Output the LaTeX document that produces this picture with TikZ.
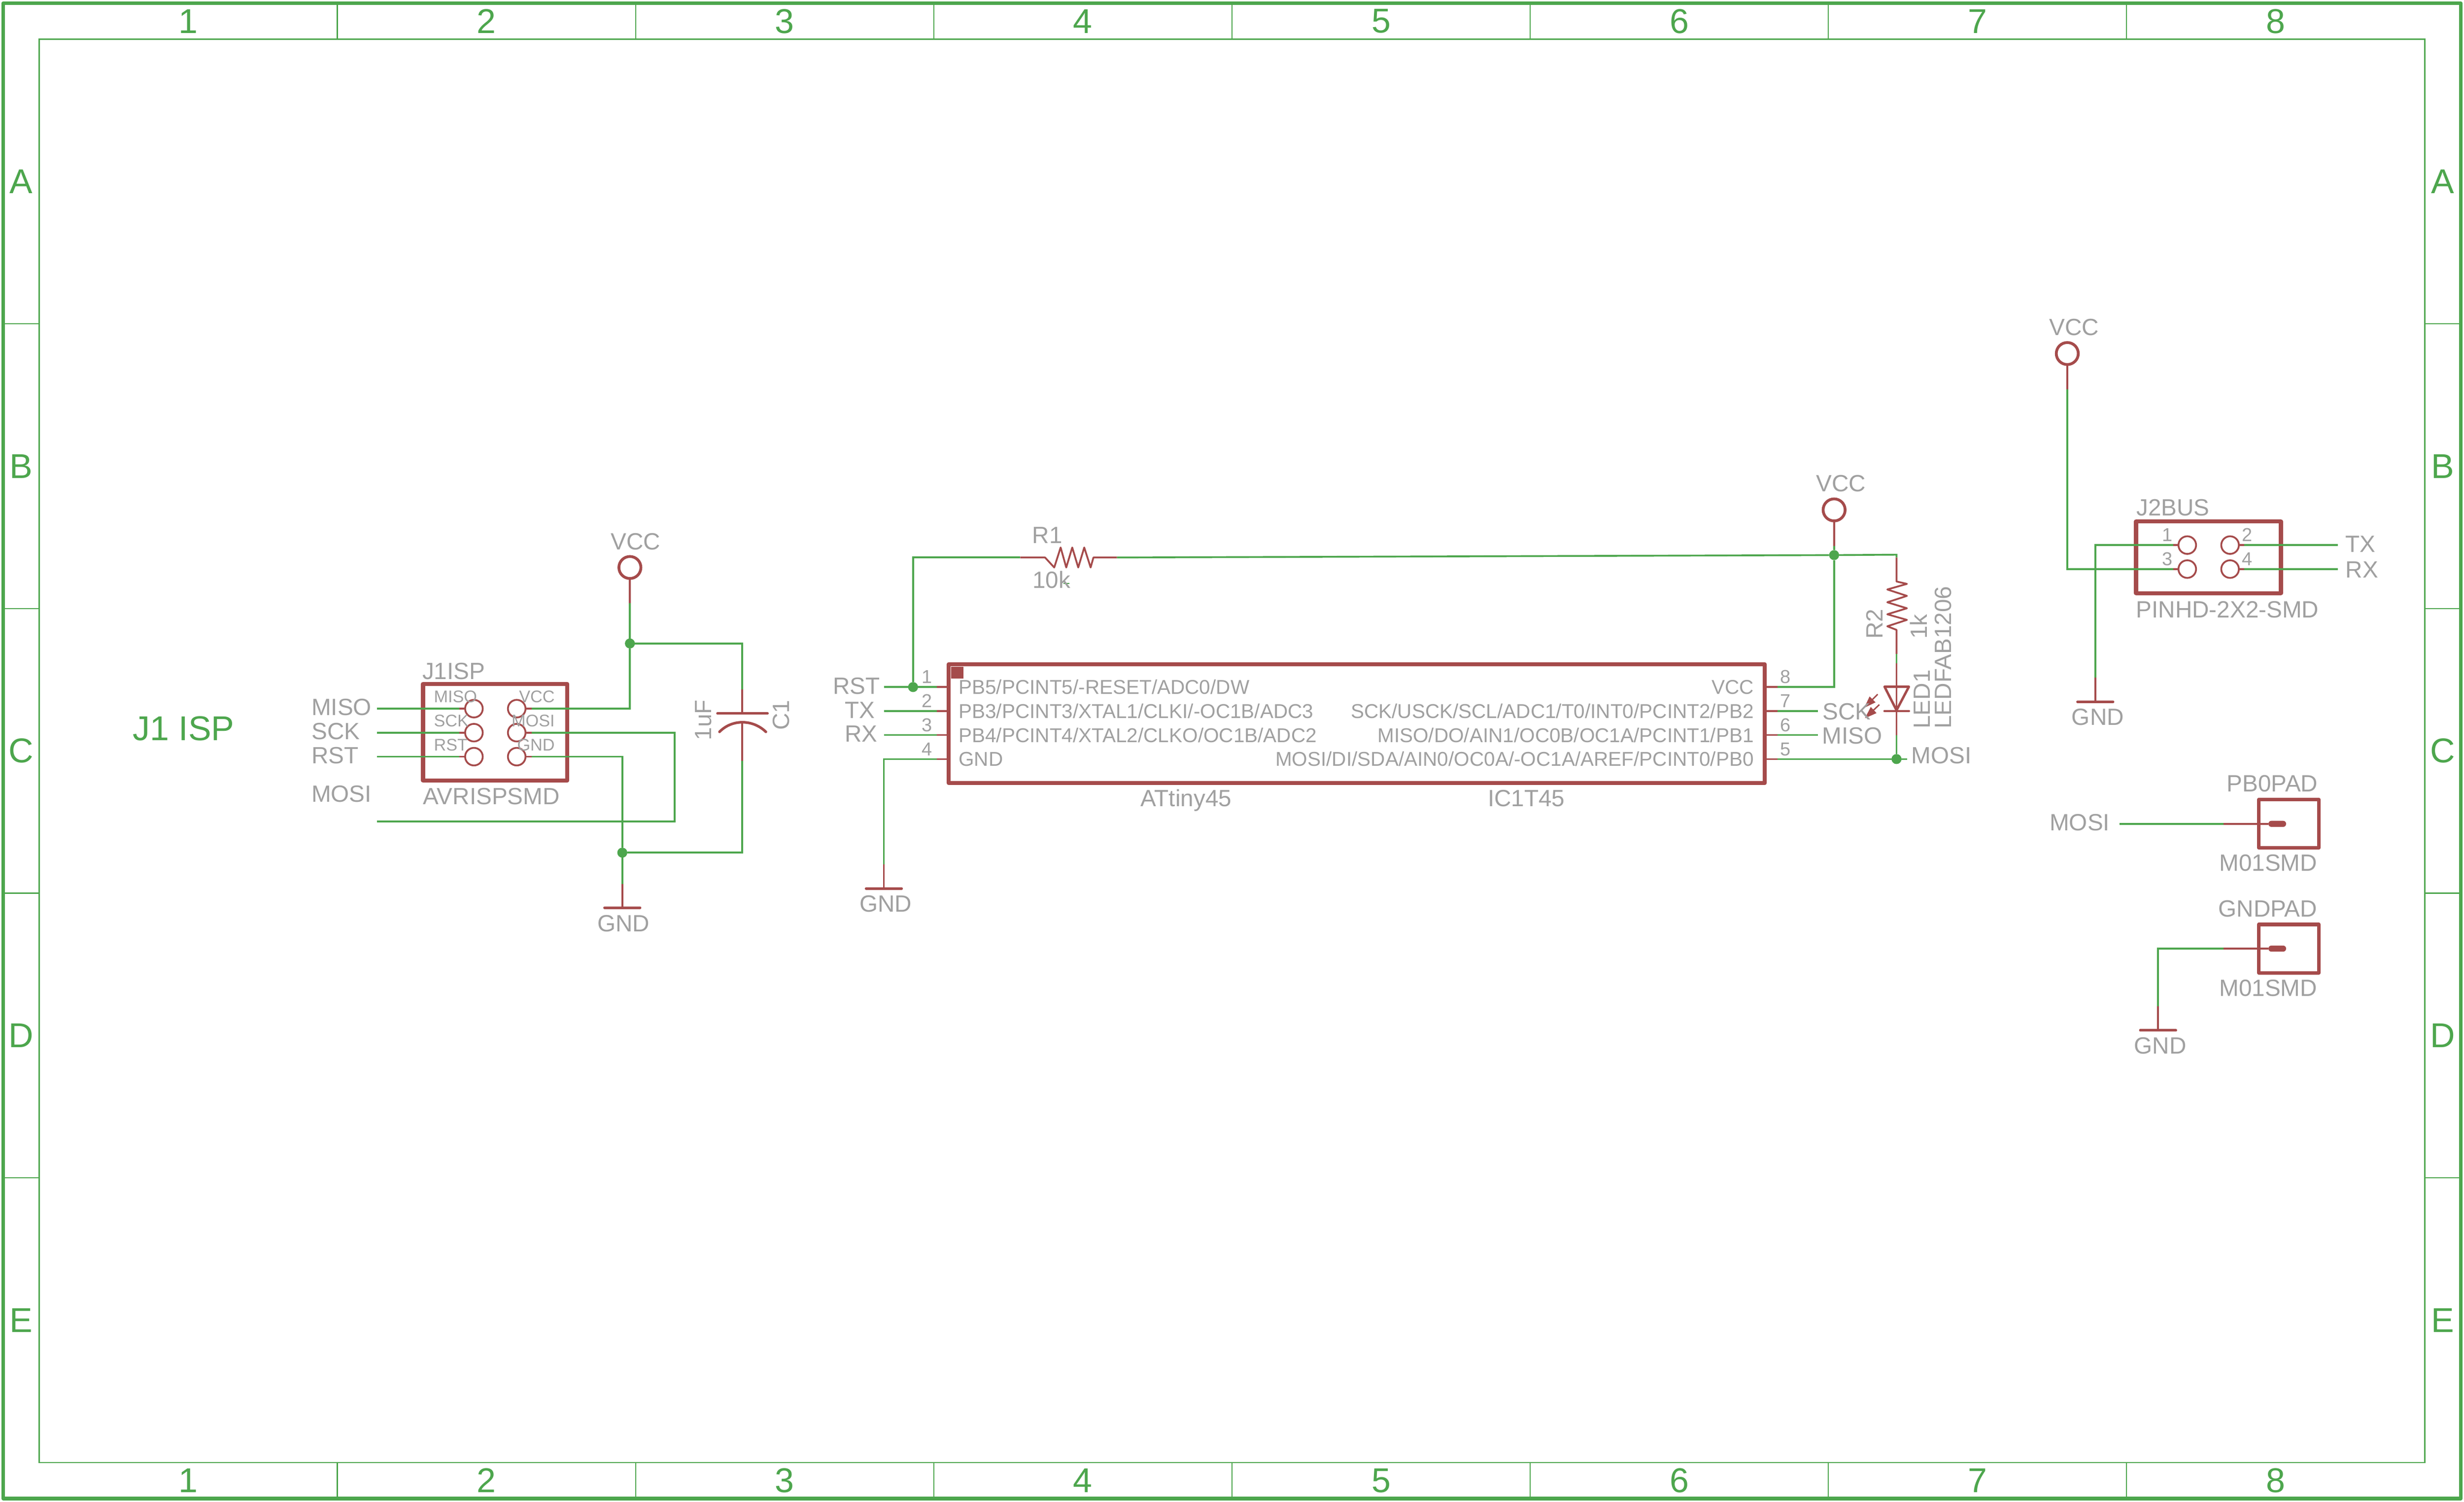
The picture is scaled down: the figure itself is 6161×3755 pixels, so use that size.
\documentclass[tikz,border=0pt]{standalone}
\usepackage{fontspec}
\setmainfont{Liberation Sans}
\usetikzlibrary{calc}
\usetikzlibrary{arrows.meta}

\definecolor{netgreen}{RGB}{77,166,77}
\definecolor{symred}{RGB}{165,75,75}
\definecolor{txtgray}{RGB}{160,160,160}

\tikzset{
  wire/.style={netgreen, line width=.045cm},
  sym/.style={symred, line width=.045cm},
  lbl/.style={txtgray, anchor=base west, inner sep=0, outer sep=0, font=\fontsize{16.7}{16.7}\selectfont},
  lblic/.style={lbl, font=\fontsize{14.2}{14.2}\selectfont},
  lblsm/.style={lbl, font=\fontsize{12}{12}\selectfont},
  lblnum/.style={lbl, font=\fontsize{13.3}{13.3}\selectfont},
  sheet/.style={netgreen, inner sep=0, outer sep=0, font=\fontsize{24.5}{24.5}\selectfont},
  hole/.style={circle, draw=symred, line width=.045cm, minimum size=.44cm, inner sep=0, outer sep=0},
  supply/.style={circle, draw=symred, line width=.07cm, minimum size=.55cm, inner sep=0, outer sep=0},
  junc/.style={circle, fill=netgreen, minimum size=.25cm, inner sep=0, outer sep=0},
  gndbar/.style={rectangle, fill=symred, rounded corners=.03cm, minimum width=.95cm, minimum height=.065cm, inner sep=0, outer sep=0},
  chip/.style={rectangle, draw=symred, line width=.1cm, line join=round, inner sep=0, outer sep=0},
  padbar/.style={rectangle, fill=symred, rounded corners=.07cm, minimum width=.44cm, minimum height=.15cm, inner sep=0, outer sep=0}
}

\begin{document}
\begin{tikzpicture} [x=.01cm, y=-.01cm]
\useasboundingbox (0,0) rectangle (6161,3755);

% sheet frame
\draw[netgreen, line width=.09cm, line join=round] (8,8) rectangle (6153,3747);
\draw[netgreen, line width=.03cm] (98,98) rectangle (6063,3657);
\foreach \c in {1,...,7} {
  \draw[netgreen, line width=.03cm] ({98+745.6*\c},8) -- ++(0,90);
  \draw[netgreen, line width=.03cm] ({98+745.6*\c},3657) -- ++(0,90);
}
\foreach \r in {1,...,4} {
  \draw[netgreen, line width=.03cm] (8,{98+711.8*\r}) -- ++(90,0);
  \draw[netgreen, line width=.03cm] (6063,{98+711.8*\r}) -- ++(90,0);
}
\foreach \c in {1,...,8} {
  \node[sheet] (top\c) at ({98+745.6*(\c-.5)},53) {\c};
  \node[sheet] (bot\c) at ({98+745.6*(\c-.5)},3702) {\c};
}
\foreach \r [count=\i] in {A,B,C,D,E} {
  \node[sheet] (lef\r) at (53,{98+711.8*(\i-.5)}) {\r};
  \node[sheet] (rig\r) at (6108,{98+711.8*(\i-.5)}) {\r};
}
\node[sheet, anchor=base west] (title) at (332,1851) {J1 ISP};

% J1 ISP header
\node[chip, minimum width=3.6cm, minimum height=2.42cm] (j1) at (1238,1831) {};
\node[lbl] (j1name) at (1056,1698) {J1ISP};
\node[lbl] (j1val) at (1058,2012) {AVRISPSMD};
\foreach \nm/\yy in {miso/1772, sck/1832, rst/1892} {
  \node[hole] (h\nm) at (1185,\yy) {};
  \draw[sym] (h\nm.west) -- ++(-15,0) coordinate (s\nm);
  \draw[wire] (s\nm) -- ++(-205,0) coordinate (e\nm);
}
\foreach \nm/\yy in {vcc/1772, mosi/1832, gnd/1892} {
  \node[hole] (h\nm) at (1292,\yy) {};
  \draw[sym] (h\nm.east) -- ++(15,0) coordinate (s\nm);
}
\node[lblsm] (tmiso) at (1085,1757) {MISO};
\node[lblsm] (tsck) at (1085,1817) {SCK};
\node[lblsm] (trst) at (1085,1877) {RST};
\node[lblsm, anchor=base east] (tvcc) at (1387,1757) {VCC};
\node[lblsm, anchor=base east] (tmosi) at (1387,1817) {MOSI};
\node[lblsm, anchor=base east] (tgnd) at (1387,1877) {GND};
\node[lbl] (nmiso) at (779,1789) {MISO};
\node[lbl] (nsck) at (779,1849) {SCK};
\node[lbl] (nrst) at (779,1909) {RST};
\node[lbl] (nmosi) at (779,2005) {MOSI};

\node[supply] (vcca) at (1575,1419) {};
\node[lbl] (lvcca) at (1527,1374) {VCC};
\node[junc] (jvcca) at (1575,1609) {};
\node[junc] (jgnda) at (1556,2132) {};
\node[gndbar] (gnda) at (1556,2270) {};
\node[lbl] (lgnda) at (1494,2329) {GND};
\coordinate (xvcca) at (1575,1508);
\coordinate (xgnda) at (1556,2210);
\coordinate (emosi) at (943,2054);
\draw[sym] (vcca) -- (xvcca);
\draw[wire] (xvcca) -- (jvcca);
\draw[wire] (svcc) -| (jvcca);
\draw[wire] (smosi) -- ++(358,0) |- (emosi);
\draw[wire] (sgnd) -| (jgnda);
\draw[wire] (jgnda) -- (xgnda);
\draw[sym] (xgnda) -- (gnda);

% C1
\coordinate (ctop) at (1856,1724);
\coordinate (cbot) at (1856,1903);
\coordinate (cplate) at (1856,1784);
\coordinate (carc) at (1856,1806);
\draw[wire] (jvcca) -| (ctop);
\draw[wire] (jgnda) -| (cbot);
\draw[sym] (ctop) -- (cplate);
\draw[sym] (carc) -- (cbot);
\draw[symred, line width=.065cm, line cap=round] (1794,1784) -- (1919,1784);
\draw[symred, line width=.065cm, line cap=round] (1799,1830) .. controls (1830,1798) and (1882,1798) .. (1915,1830);
\node[lbl, rotate=90] (cval) at (1779,1851) {1uF};
\node[lbl, rotate=90] (cname) at (1973,1826) {C1};

% ATtiny45
\node[chip, minimum width=20.39cm, minimum height=2.97cm] (ic) at (3392.5,1809.5) {};
\fill[symred] (2378,1667) rectangle (2409,1697);
\foreach \p/\yy/\pname in {1/1718/{PB5/PCINT5/-RESET/ADC0/DW}, 2/1778/{PB3/PCINT3/XTAL1/CLKI/-OC1B/ADC3}, 3/1838/{PB4/PCINT4/XTAL2/CLKO/OC1B/ADC2}, 4/1898/GND} {
  \coordinate (pa\p) at (2373,\yy);
  \draw[sym] (pa\p) -- ++(-31,0) coordinate (qa\p);
  \node[lblnum, anchor=base east] (na\p) at (2331,\yy-9) {\p};
  \node[lblic] (ta\p) at (2397,\yy+18) {\pname};
}
\foreach \p/\yy/\pname in {8/1718/VCC, 7/1778/{SCK/USCK/SCL/ADC1/T0/INT0/PCINT2/PB2}, 6/1838/{MISO/DO/AIN1/OC0B/OC1A/PCINT1/PB1}, 5/1898/{MOSI/DI/SDA/AIN0/OC0A/-OC1A/AREF/PCINT0/PB0}} {
  \coordinate (pb\p) at (4412,\yy);
  \draw[sym] (pb\p) -- ++(32,0) coordinate (qb\p);
  \node[lblnum] (nb\p) at (4451,\yy-9) {\p};
  \node[lblic, anchor=base east] (tb\p) at (4385,\yy+18) {\pname};
}
\node[lbl] (icval) at (2852,2017) {ATtiny45};
\node[lbl] (icname) at (3720,2017) {IC1T45};

\node[junc] (jrst) at (2283,1718) {};
\coordinate (xrst) at (2210,1718);
\coordinate (xtx) at (2210,1778);
\coordinate (xrx) at (2210,1838);
\draw[wire] (xrst) -- (qa1);
\draw[wire] (xtx) -- (qa2);
\draw[wire] (xrx) -- (qa3);
\node[lbl] (lrst) at (2083,1736) {RST};
\node[lbl] (ltx) at (2113,1796) {TX};
\node[lbl] (lrx) at (2112,1855) {RX};
\node[gndbar] (gndb) at (2210,2222) {};
\node[lbl] (lgndb) at (2149,2280) {GND};
\coordinate (xgndb) at (2210,2161);
\draw[wire] (qa4) -| (xgndb);
\draw[sym] (xgndb) -- (gndb);

% R1
\node[junc] (jvccb) at (4586,1388) {};
\coordinate (r1a) at (2551,1394);
\coordinate (r1b) at (2793,1394);
\draw[wire] (jrst) |- (r1a);
\draw[sym, line join=round] (r1a) -- (2613,1394) -- (2636,1419) -- (2652,1369) -- (2666,1419) -- (2681,1369) -- (2696,1419) -- (2711,1369) -- (2727,1419) -- (2734,1394) -- (r1b);
\draw[wire] (r1b) -- (jvccb);
\draw[netgreen, line width=.03cm] (2659,1459) -- ++(15,0);
\node[lbl] (r1name) at (2581,1359) {R1};
\node[lbl] (r1val) at (2582,1471) {10k};

\node[supply] (vccb) at (4586,1275) {};
\node[lbl] (lvccb) at (4541,1229) {VCC};
\coordinate (xvccb) at (4586,1365);
\draw[sym] (vccb) -- (xvccb);
\draw[wire] (xvccb) -- (jvccb);
\draw[wire] (qb8) -| (jvccb);

% R2 and LED1
\coordinate (r2t) at (4742,1387);
\coordinate (r2a) at (4742,1394);
\coordinate (r2b) at (4742,1635);
\coordinate (ledt) at (4742,1658);
\coordinate (ledb) at (4742,1839);
\node[junc] (jmosi) at (4742,1898) {};
\coordinate (emosib) at (4768,1898);
\draw[wire] (jvccb) -- (r2t) -- (r2a);
\draw[sym, line join=round] (r2a) -- (4742,1454) -- (4768,1460) -- (4719,1474) -- (4768,1490) -- (4719,1506) -- (4768,1521) -- (4719,1536) -- (4768,1550) -- (4719,1566) -- (4742,1575) -- (r2b);
\draw[wire] (r2b) -- (ledt);
\draw[sym] (ledt) -- (ledb);
\draw[wire] (ledb) -- (jmosi);
\draw[wire] (qb5) -- (emosib);
\draw[symred, line width=.06cm, line join=round] (4712,1717) -- (4773,1717) -- (4742,1776) -- cycle;
\draw[symred, line width=.06cm, line cap=round] (4712,1778) -- (4773,1778);
\draw[sym, line width=.035cm, -{Triangle[length=.3cm, width=.2cm]}] (4695,1736) -- (4661,1770);
\draw[sym, line width=.035cm, -{Triangle[length=.3cm, width=.2cm]}] (4699,1762) -- (4663,1796);
\node[lbl, rotate=90] (r2name) at (4707,1598) {R2};
\node[lbl, rotate=90] (r2val) at (4819,1598) {1k};
\node[lbl, rotate=90] (ledname) at (4826,1822) {LED1};
\node[lbl, rotate=90] (ledval) at (4879,1822) {LEDFAB1206};
\coordinate (esck) at (4546,1778);
\coordinate (emiso) at (4546,1838);
\draw[wire] (qb7) -- (esck);
\draw[wire] (qb6) -- (emiso);
\node[lbl] (lsck) at (4557,1800) {SCK};
\node[lbl] (lmiso) at (4556,1860) {MISO};
\node[lbl] (lmosi) at (4779,1909) {MOSI};

% J2 BUS header
\node[chip, minimum width=3.62cm, minimum height=1.79cm] (j2) at (5522,1393.5) {};
\node[lbl] (j2name) at (5342,1289) {J2BUS};
\node[lbl] (j2val) at (5341,1544) {PINHD-2X2-SMD};
\foreach \p/\yy in {1/1363, 3/1423} {
  \node[hole] (hb\p) at (5469,\yy) {};
  \draw[sym] (hb\p.west) -- ++(-13,0) coordinate (sb\p);
  \node[lblnum, anchor=base east] (nj\p) at (5432,\yy-9) {\p};
}
\foreach \p/\yy in {2/1363, 4/1423} {
  \node[hole] (hb\p) at (5576,\yy) {};
  \draw[sym] (hb\p.east) -- ++(13,0) coordinate (sb\p);
  \draw[wire] (sb\p) -- ++(235,0) coordinate (eb\p);
  \node[lblnum] (nj\p) at (5606,\yy-9) {\p};
}
\node[lbl] (ltxb) at (5864,1381) {TX};
\node[lbl] (lrxb) at (5865,1445) {RX};
\node[supply] (vccc) at (5169,884) {};
\node[lbl] (lvccc) at (5124,838) {VCC};
\coordinate (xvccc) at (5169,974);
\draw[sym] (vccc) -- (xvccc);
\draw[wire] (xvccc) |- (sb3);
\node[gndbar] (gndc) at (5239,1755) {};
\node[lbl] (lgndc) at (5180,1813) {GND};
\coordinate (xgndc) at (5239,1694);
\draw[wire] (sb1) -| (xgndc);
\draw[sym] (xgndc) -- (gndc);

% pads
\node[chip, line width=.09cm, minimum width=1.5cm, minimum height=1.21cm] (pad0) at (5723,2059.5) {};
\node[padbar] (pb0) at (5694,2060) {};
\node[lbl] (pad0name) at (5568,1980) {PB0PAD};
\node[lbl] (pad0val) at (5549,2178) {M01SMD};
\node[lbl] (lmosic) at (5125,2077) {MOSI};
\coordinate (x0) at (5560,2060);
\coordinate (e0) at (5300,2060);
\draw[sym] (pb0) -- (x0);
\draw[wire] (x0) -- (e0);
\node[chip, line width=.09cm, minimum width=1.5cm, minimum height=1.21cm] (pad1) at (5723,2372) {};
\node[padbar] (pb1) at (5694,2372) {};
\node[lbl] (pad1name) at (5547,2292) {GNDPAD};
\node[lbl] (pad1val) at (5549,2491) {M01SMD};
\node[gndbar] (gndd) at (5396,2576) {};
\node[lbl] (lgndd) at (5336,2635) {GND};
\coordinate (x1) at (5560,2372);
\coordinate (xgndd) at (5396,2516);
\draw[sym] (pb1) -- (x1);
\draw[wire] (x1) -| (xgndd);
\draw[sym] (xgndd) -- (gndd);

\end{tikzpicture}
\end{document}
